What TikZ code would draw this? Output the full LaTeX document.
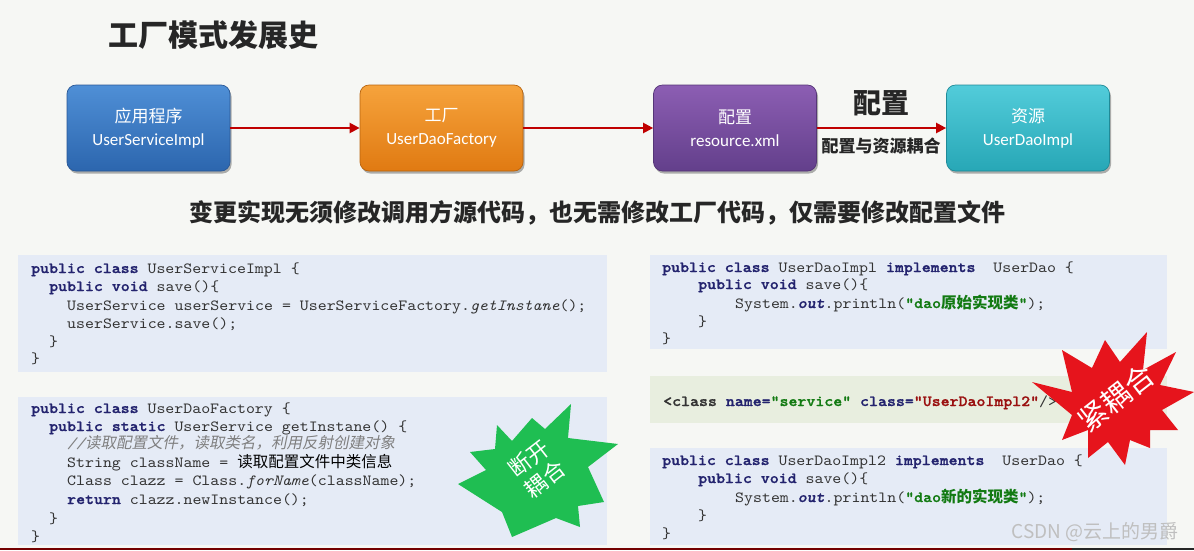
\documentclass[tikz,border=0pt]{standalone}
\usepackage{fontspec}
\setmainfont{Carlito}
\newfontfamily\cjk{Noto Sans CJK SC}
\newfontfamily\cjkit{Noto Sans CJK SC}[FakeSlant=0.2]
\newfontfamily\codefont{lmmono10-regular.otf}[BoldFont=lmmonolt10-bold.otf, ItalicFont=lmmono10-italic.otf, BoldItalicFont=lmmonolt10-boldoblique.otf, BoldFeatures={FakeBold=1.2}, BoldItalicFeatures={FakeBold=1.2}, FakeStretch=1.1]
\usetikzlibrary{arrows.meta,shadows}
\definecolor{bgcol}{HTML}{F6F7F4}
\definecolor{panelblue}{HTML}{E5EBF6}
\definecolor{panelgreen}{HTML}{E8EEDF}
\definecolor{arrowred}{HTML}{C00000}
\definecolor{kwnavy}{HTML}{23236E}
\definecolor{codegray}{HTML}{333333}
\definecolor{strgreen}{HTML}{127A12}
\definecolor{attrred}{HTML}{9A1010}
\definecolor{commentgray}{HTML}{7F7F7F}
\definecolor{wmgray}{HTML}{BFBFBF}
\definecolor{stargreen}{HTML}{1FBE52}
\definecolor{starred}{HTML}{E6141C}
\definecolor{blueA}{HTML}{4F8FD6}\definecolor{blueB}{HTML}{2C66AE}\definecolor{blueE}{HTML}{2A5896}
\definecolor{orA}{HTML}{F6A33C}\definecolor{orB}{HTML}{E07A12}\definecolor{orE}{HTML}{B8640E}
\definecolor{puA}{HTML}{8C5EB3}\definecolor{puB}{HTML}{633F8B}\definecolor{puE}{HTML}{553577}
\definecolor{teA}{HTML}{52CCDA}\definecolor{teB}{HTML}{27A7B6}\definecolor{teE}{HTML}{1F8A97}
\newcommand\kw[1]{\textcolor{kwnavy}{\bfseries #1}}
\newcommand\strg[1]{\textcolor{strgreen}{\bfseries #1}}
\tikzset{
  flowbox/.style={rounded corners=9pt, minimum width=163pt, minimum height=86pt,
    inner sep=0pt, align=center, text=white, line width=0.7pt,
    font=\fontsize{17}{23}\selectfont,
    drop shadow={shadow xshift=1.5pt, shadow yshift=-2.5pt, opacity=0.3, fill=black}},
  flowarrow/.style={draw=arrowred, line width=2.2pt, -{Triangle[length=10pt,width=10pt]}},
  panelb/.style={fill=panelblue, draw=none},
  panelg/.style={fill=panelgreen, draw=none},
  codeline/.style={anchor=base west, inner sep=0pt, text=codegray,
    font=\codefont\fontsize{15.5}{18}\selectfont},
  startext/.style={text=white, align=center, inner sep=0pt},
}
\begin{document}
\begin{tikzpicture}[x=1pt,y=-1pt]
\fill[bgcol] (0,0) rectangle (1194,550);
\useasboundingbox (0,0) rectangle (1194,550);

% title
\node[anchor=west, inner sep=0pt, text=black!85, font=\cjk\bfseries\fontsize{30}{34}\selectfont] (title) at (108,35) {工厂模式发展史};

% flow boxes
\node[flowbox, top color=blueA, bottom color=blueB, draw=blueE] (app) at (148.5,128) {{\cjk 应用程序}\\UserServiceImpl};
\node[flowbox, top color=orA, bottom color=orB, draw=orE] (fac) at (441.5,128) {{\cjk 工厂}\\UserDaoFactory};
\node[flowbox, top color=puA, bottom color=puB, draw=puE] (cfg) at (735,128) {{\cjk 配置}\\resource.xml};
\node[flowbox, top color=teA, bottom color=teB, draw=teE] (res) at (1028,128) {{\cjk 资源}\\UserDaoImpl};
\draw[flowarrow] (app) -- (fac);
\draw[flowarrow] (fac) -- (cfg);
\draw[flowarrow] (cfg) -- (res);
\node[inner sep=0pt, text=black!85, font=\cjk\bfseries\fontsize{28}{32}\selectfont] (cfglbl) at (881,103) {配置};
\node[inner sep=0pt, text=black!85, font=\cjk\bfseries\fontsize{17}{20}\selectfont] (couplbl) at (881,146) {配置与资源耦合};

% subtitle
\node[inner sep=0pt, text=black!85, font=\cjk\bfseries\fontsize{24}{28}\selectfont] (sub) at (597,213) {变更实现无须修改调用方源代码，也无需修改工厂代码，仅需要修改配置文件};

% code panels
\fill[panelb] (18,255) rectangle (607,372);
\fill[panelb] (18,397) rectangle (607,545);
\fill[panelb] (650,255) rectangle (1167,349);
\fill[panelg] (650,376) rectangle (1167,423);
\fill[panelb] (650,448) rectangle (1167,545);

% panel 1
\node[codeline] (a1) at (31,273) {\kw{public class} UserServiceImpl \{};
\node[codeline] (a2) at (49,291) {\kw{public void} save()\{};
\node[codeline] (a3) at (67,310) {UserService userService = UserServiceFactory.\textit{getInstane}();};
\node[codeline] (a4) at (67,328) {userService.save();};
\node[codeline] (a5) at (49,346) {\}};
\node[codeline] (a6) at (31,363) {\}};

% panel 2
\node[codeline] (b1) at (31,413) {\kw{public class} UserDaoFactory \{};
\node[codeline] (b2) at (49,431) {\kw{public static} UserService getInstane() \{};
\node[codeline] (b3) at (67,448) {\textcolor{commentgray}{\itshape //{\cjkit 读取配置文件，读取类名，利用反射创建对象}}};
\node[codeline] (b4) at (67,467) {String className = {\cjk\color{black}读取配置文件中类信息}};
\node[codeline] (b5) at (67,485) {Class clazz = Class.\textit{forName}(className);};
\node[codeline] (b6) at (67,504) {\kw{return} clazz.newInstance();};
\node[codeline] (b7) at (49,523) {\}};
\node[codeline] (b8) at (31,541) {\}};

% panel 3
\node[codeline] (c1) at (662,272) {\kw{public class} UserDaoImpl \kw{implements}~~UserDao \{};
\node[codeline] (c2) at (698,289) {\kw{public void} save()\{};
\node[codeline] (c3) at (735,308) {System.\textcolor{kwnavy}{\bfseries\itshape out}.println(\strg{"dao{\cjk 原始实现类}"});};
\node[codeline] (c4) at (698,326) {\}};
\node[codeline] (c5) at (662,343) {\}};

% panel 4
\node[codeline] (d1) at (663,406) {\textcolor{codegray}{\bfseries <class} \kw{name=}\strg{"service"} \kw{class=}\textcolor{attrred}{\bfseries "UserDaoImpl2"}/>};

% panel 5
\node[codeline] (e1) at (662,465) {\kw{public class} UserDaoImpl2 \kw{implements}~~UserDao \{};
\node[codeline] (e2) at (698,483) {\kw{public void} save()\{};
\node[codeline] (e3) at (735,502) {System.\textcolor{kwnavy}{\bfseries\itshape out}.println(\strg{"dao{\cjk 新的实现类}"});};
\node[codeline] (e4) at (698,520) {\}};
\node[codeline] (e5) at (662,538) {\}};

% green starburst
\fill[stargreen] (497,425) -- (512,441) -- (532,418) -- (545,429) -- (571,404) -- (568,438)
  -- (618,444) -- (588,467) -- (604,502) -- (578,506) -- (580,527) -- (556,518)
  -- (512,537) -- (502,512) -- (458,484) -- (486,470) -- (470,452) -- (495,449) -- cycle;
\node[startext, rotate=38, font=\cjk\fontsize{22}{26}\selectfont] (brk) at (537,469) {断开\\耦合};

% red starburst
\fill[starred] (1032,382) -- (1072,392) -- (1062,350) -- (1092,368) -- (1105,340) -- (1120,362)
  -- (1147,332) -- (1143,370) -- (1176,352) -- (1160,385) -- (1194,392) -- (1162,410)
  -- (1178,430) -- (1150,430) -- (1150,448) -- (1130,440) -- (1125,465) -- (1108,442)
  -- (1088,458) -- (1088,430) -- (1062,440) -- (1072,415) -- cycle;
\node[startext, rotate=38, font=\cjk\fontsize{29}{32}\selectfont] (tight) at (1116,398) {紧耦合};

% watermark
\node[anchor=east, inner sep=0pt, text=wmgray, font=\cjk\fontsize{19}{22}\selectfont] (wm) at (1179,532) {CSDN @云上的男爵};

% bottom edge line
\draw[line width=2pt, draw=red!45!black] (0,549) -- (1072,549);
\draw[line width=2pt, draw=black!85] (1072,549) -- (1194,549);
\end{tikzpicture}
\end{document}
